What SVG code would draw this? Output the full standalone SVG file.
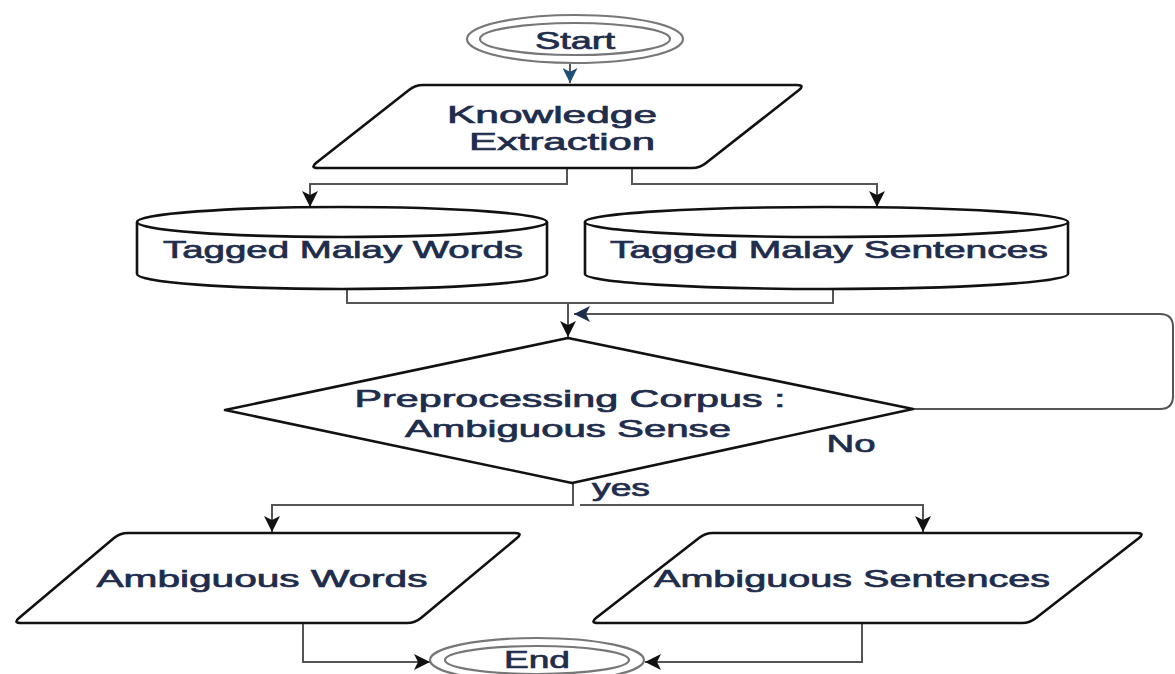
<svg xmlns="http://www.w3.org/2000/svg" width="1175" height="674" viewBox="0 0 1175 674">
<style>
.shape{fill:#fff;stroke:#111;stroke-width:2.6;stroke-linejoin:round}
.term{fill:#fff;stroke:#777;stroke-width:2.2}
.conn{fill:none;stroke:#555;stroke-width:2}
.t{font-family:"Liberation Sans",Arial,sans-serif;font-weight:normal;font-size:24px;fill:#1f2d4d;stroke:#1f2d4d;stroke-width:0.7;text-anchor:middle}
</style>
<defs>
<marker id="ah" viewBox="0 0 10 10" refX="10" refY="5" markerUnits="userSpaceOnUse" markerWidth="16" markerHeight="16" orient="auto">
<path d="M0,0 L10,5 L0,10 L2.5,5 Z" fill="#111"/>
</marker>
<marker id="ahb" viewBox="0 0 10 10" refX="10" refY="5" markerUnits="userSpaceOnUse" markerWidth="15" markerHeight="15" orient="auto">
<path d="M0,0 L10,5 L0,10 L2.5,5 Z" fill="#1f4e79"/>
</marker>
<marker id="ahn" viewBox="0 0 10 10" refX="10" refY="5" markerUnits="userSpaceOnUse" markerWidth="16" markerHeight="16" orient="auto">
<path d="M0,0 L10,5 L0,10 L2.5,5 Z" fill="#1f2d4d"/>
</marker>
</defs>
<rect width="1175" height="674" fill="#fff"/>

<g id="connectors">
<path class="conn" d="M570,64 V83" stroke="#1f4e79" marker-end="url(#ahb)"/>
<path class="conn" d="M567,168 V184 H310 V207" marker-end="url(#ah)"/>
<path class="conn" d="M632,168 V184 H877 V207" marker-end="url(#ah)"/>
<path class="conn" d="M347,289 V303 H568"/>
<path class="conn" d="M833,289 V303 H568"/>
<path class="conn" d="M568,303 V337" marker-end="url(#ah)"/>
<path class="conn" d="M913,409 H1160 Q1173,409 1173,396 V327 Q1173,314 1160,314 H574" stroke="#666" marker-end="url(#ahn)"/>
<path class="conn" d="M573,483 V505 H272 V532" marker-end="url(#ah)"/>
<path class="conn" d="M580,505 H923 V532" marker-end="url(#ah)"/>
<path class="conn" d="M303,623 V662 H430" marker-end="url(#ah)"/>
<path class="conn" d="M862,623 V662 H645" marker-end="url(#ah)"/>
<text class="t" x="851" y="452" textLength="49" lengthAdjust="spacingAndGlyphs">No</text>
<text class="t" x="621" y="496" font-size="22" textLength="58" lengthAdjust="spacingAndGlyphs">yes</text>
</g>

<g id="start">
<ellipse class="term" cx="575" cy="39" rx="108" ry="24"/>
<ellipse class="term" cx="575" cy="39" rx="95" ry="16"/>
<text class="t" x="575" y="49" font-size="22" textLength="80" lengthAdjust="spacingAndGlyphs">Start</text>
</g>

<g id="knowledge">
<path class="shape" d="M423,85 L797,85 Q805,85 799,90 L706,163 Q700,168 692,168 L318,168 Q310,168 316,163 L409,90 Q415,85 423,85 Z"/>
<text class="t" x="552" y="123" font-size="23" textLength="210" lengthAdjust="spacingAndGlyphs">Knowledge</text>
<text class="t" x="562" y="150" font-size="23" textLength="186" lengthAdjust="spacingAndGlyphs">Extraction</text>
</g>

<g id="words-db">
<path class="shape" d="M137,222 V274 A205,15 0 0 0 547,274 V222"/>
<ellipse class="shape" cx="342" cy="222" rx="205" ry="15"/>
<text class="t" x="343" y="258" textLength="360" lengthAdjust="spacingAndGlyphs">Tagged Malay Words</text>
</g>

<g id="sentences-db">
<path class="shape" d="M585,222 V274 A241.5,15 0 0 0 1068,274 V222"/>
<ellipse class="shape" cx="826.5" cy="222" rx="241.5" ry="15"/>
<text class="t" x="829" y="258" textLength="438" lengthAdjust="spacingAndGlyphs">Tagged Malay Sentences</text>
</g>

<g id="decision">
<polygon class="shape" points="568,338 913,409 572,483 225,410"/>
<text class="t" x="570" y="407" textLength="431" lengthAdjust="spacingAndGlyphs">Preprocessing Corpus :</text>
<text class="t" x="568" y="437" textLength="326" lengthAdjust="spacingAndGlyphs">Ambiguous Sense</text>
</g>

<g id="amb-words">
<path class="shape" d="M128,533 L515,533 Q523,533 517,538 L421,618 Q415,623 407,623 L21,623 Q13,623 19,618 L114,538 Q120,533 128,533 Z"/>
<text class="t" x="262" y="587" textLength="331" lengthAdjust="spacingAndGlyphs">Ambiguous Words</text>
</g>

<g id="amb-sentences">
<path class="shape" d="M713,533 L1137,533 Q1145,533 1139,538 L1036,618 Q1030,623 1022,623 L598,623 Q590,623 596,618 L699,538 Q705,533 713,533 Z"/>
<text class="t" x="852" y="587" textLength="396" lengthAdjust="spacingAndGlyphs">Ambiguous Sentences</text>
</g>

<g id="end">
<ellipse class="term" cx="537" cy="660" rx="107" ry="22"/>
<ellipse class="term" cx="537" cy="660" rx="92" ry="14"/>
<text class="t" x="537" y="668" font-size="22" textLength="66" lengthAdjust="spacingAndGlyphs">End</text>
</g>
</svg>
